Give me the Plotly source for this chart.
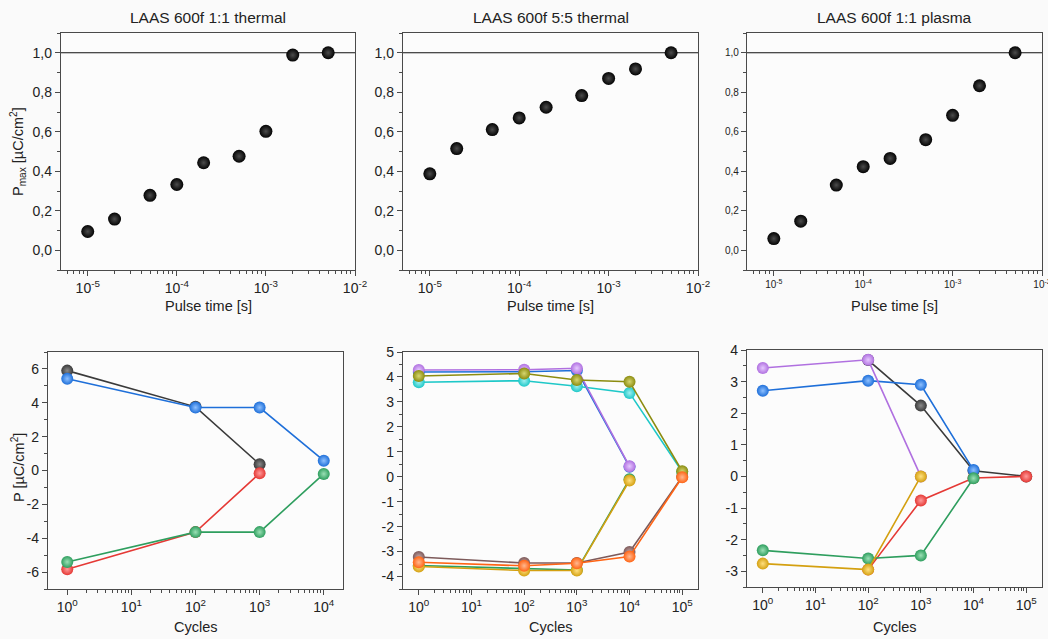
import plotly.graph_objects as go

# ---------------- data ----------------
pulse_time = [1e-5, 2e-5, 5e-5, 1e-4, 2e-4, 5e-4, 1e-3, 2e-3, 5e-3]
pmax_11_thermal = [0.095, 0.158, 0.278, 0.333, 0.443, 0.476, 0.602, 0.988, 1.0]
pmax_55_thermal = [0.387, 0.515, 0.611, 0.670, 0.724, 0.783, 0.870, 0.918, 1.0]
pmax_11_plasma = [0.059, 0.147, 0.330, 0.423, 0.465, 0.560, 0.683, 0.833, 1.0]

top_titles = ["LAAS 600f 1:1 thermal", "LAAS 600f 5:5 thermal", "LAAS 600f 1:1 plasma"]

# bottom-left (1:1 thermal)
c11t_black_x = [1, 100, 1000]
c11t_black_y = [5.90, 3.76, 0.37]
c11t_red_x = [1, 100, 1000]
c11t_red_y = [-5.83, -3.64, -0.16]
c11t_blue_x = [1, 100, 1000, 1e4]
c11t_blue_y = [5.42, 3.72, 3.72, 0.58]
c11t_green_x = [1, 100, 1000, 1e4]
c11t_green_y = [-5.40, -3.64, -3.64, -0.20]

# bottom-middle (5:5 thermal)
c55_blue_x = [1, 100, 1000, 1e4]
c55_blue_y = [4.20, 4.21, 4.26, 0.40]
c55_brown_x = [1, 100, 1000, 1e4, 1e5]
c55_brown_y = [-3.22, -3.46, -3.46, -3.02, 0.00]
c55_cyan_x = [1, 100, 1000, 1e4, 1e5]
c55_cyan_y = [3.79, 3.85, 3.63, 3.36, 0.20]
c55_green_x = [1, 100, 1000, 1e4]
c55_green_y = [-3.56, -3.70, -3.74, -0.10]
c55_purple_x = [1, 100, 1000, 1e4]
c55_purple_y = [4.28, 4.29, 4.35, 0.42]
c55_olive_x = [1, 100, 1000, 1e4, 1e5]
c55_olive_y = [4.04, 4.14, 3.88, 3.81, 0.22]
c55_gold_x = [1, 100, 1000, 1e4]
c55_gold_y = [-3.60, -3.76, -3.76, -0.15]
c55_orange_x = [1, 100, 1000, 1e4, 1e5]
c55_orange_y = [-3.43, -3.57, -3.47, -3.20, -0.02]

# bottom-right (1:1 plasma)
c11p_black_x = [100, 1000, 1e4, 1e5]
c11p_black_y = [3.68, 2.24, 0.18, 0.00]
c11p_red_x = [100, 1000, 1e4, 1e5]
c11p_red_y = [-2.95, -0.76, -0.05, 0.00]
c11p_blue_x = [1, 100, 1000, 1e4]
c11p_blue_y = [2.71, 3.03, 2.90, 0.20]
c11p_green_x = [1, 100, 1000, 1e4]
c11p_green_y = [-2.34, -2.60, -2.50, -0.06]
c11p_purple_x = [1, 100, 1000]
c11p_purple_y = [3.43, 3.69, 0.00]
c11p_gold_x = [1, 100, 1000]
c11p_gold_y = [-2.76, -2.95, 0.00]

top_xtick_vals = [1e-5, 1e-4, 1e-3, 1e-2]
top_xtick_text = ["10<sup>-5</sup>", "10<sup>-4</sup>", "10<sup>-3</sup>", "10<sup>-2</sup>"]
top_ytick_vals = [0.0, 0.2, 0.4, 0.6, 0.8, 1.0]
top_ytick_text = ["0,0", "0,2", "0,4", "0,6", "0,8", "1,0"]
cyc_xtick_vals = [1, 10, 100, 1000, 1e4, 1e5]
cyc_xtick_text = ["10<sup>0</sup>", "10<sup>1</sup>", "10<sup>2</sup>", "10<sup>3</sup>", "10<sup>4</sup>", "10<sup>5</sup>"]

# ---------------- styling ----------------
COL = {
    "black": ("#3a3a3a", "#8a8a8a"),
    "red": ("#e53935", "#ff9a9a"),
    "blue": ("#1e6fd9", "#8ec0ff"),
    "green": ("#2e9e5e", "#9be0b5"),
    "purple": ("#b070e0", "#e6c8ff"),
    "olive": ("#8c8c10", "#d6d670"),
    "cyan": ("#1ec8c8", "#a0f0f0"),
    "brown": ("#7d5a5a", "#c8a8a8"),
    "orange": ("#ff6414", "#ffb890"),
    "gold": ("#d4a010", "#ffe080"),
}
FONT = "Liberation Sans, Arial, sans-serif"
AXC = "#4a4a4a"

W, H = 1048, 639
panels = [
    # (x0,x1,y0,y1) in pixels
    (61, 355, 33, 270),
    (403, 698, 33, 270),
    (747, 1042, 33, 270),
    (48, 343, 352, 589),
    (403, 698, 352, 589),
    (747, 1042, 350, 587),
]

fig = go.Figure()


def minor_log(lo, hi):
    vals = []
    for e in range(lo, hi + 1):
        for m in range(2, 10):
            vals.append(m * 10.0 ** e)
    return vals


def axis_name(kind, i):
    return kind + ("axis" if i == 1 else "axis%d" % i)


def ref(kind, i):
    return kind if i == 1 else "%s%d" % (kind, i)


def setup_panel(i, xrange_log, yrange, xtv, xtt, ytv, ytt, yminor, minor_lo, minor_hi, tickfs_x, tickfs_y):
    x0, x1, y0, y1 = panels[i - 1]
    dx = [x0 / W, x1 / W]
    dy = [1 - y1 / H, 1 - y0 / H]
    mlog = minor_log(minor_lo, minor_hi)
    common_x = dict(type="log", range=xrange_log, showgrid=False, zeroline=False, automargin=False)
    common_y = dict(range=yrange, showgrid=False, zeroline=False, automargin=False)
    fig.layout[axis_name("x", i)] = dict(
        domain=dx, anchor=ref("y", i), **common_x,
        showline=True, linecolor=AXC, linewidth=1.3, mirror=True,
        ticks="outside", ticklen=5, tickwidth=1, tickcolor=AXC,
        tickmode="array", tickvals=xtv, ticktext=xtt, ticklabeloverflow="allow",
        tickfont=dict(family=FONT, size=tickfs_x, color="#222"),
        minor=dict(tickmode="array", tickvals=mlog, ticks="outside", ticklen=3, tickcolor=AXC, showgrid=False),
    )
    fig.layout[axis_name("y", i)] = dict(
        domain=dy, anchor=ref("x", i), **common_y,
        showline=True, linecolor=AXC, linewidth=1.3, mirror=True,
        ticks="outside", ticklen=5, tickwidth=1, tickcolor=AXC,
        tickmode="array", tickvals=ytv, ticktext=ytt,
        tickfont=dict(family=FONT, size=tickfs_y, color="#222"),
        minor=dict(dtick=yminor, ticks="outside", ticklen=3, tickcolor=AXC, showgrid=False),
    )
    # mirrored inside ticks on top / right
    j = i + 6
    fig.layout[axis_name("x", j)] = dict(
        overlaying=ref("x", i), anchor=ref("y", i), side="top", **common_x,
        showline=False, ticks="inside", ticklen=5, tickwidth=1, tickcolor=AXC,
        tickmode="array", tickvals=xtv, showticklabels=False,
        minor=dict(tickmode="array", tickvals=mlog, ticks="inside", ticklen=3, tickcolor=AXC, showgrid=False),
    )
    fig.layout[axis_name("y", j)] = dict(
        overlaying=ref("y", i), anchor=ref("x", i), side="right", **common_y,
        showline=False, ticks="inside", ticklen=5, tickwidth=1, tickcolor=AXC,
        tickmode="array", tickvals=ytv, showticklabels=False,
        minor=dict(dtick=yminor, ticks="inside", ticklen=3, tickcolor=AXC, showgrid=False),
    )


def ball_trace(i, x, y, color_key, size, lines=True):
    edge, center = COL[color_key]
    fig.add_trace(go.Scatter(
        x=x, y=y, xaxis=ref("x", i), yaxis=ref("y", i),
        mode="lines+markers" if lines else "markers",
        line=dict(color=edge, width=1.6),
        marker=dict(size=size, color=edge, line=dict(width=0),
                    gradient=dict(type="radial", color=center)),
        showlegend=False, cliponaxis=False,
    ))


# top panels
top_data = [pmax_11_thermal, pmax_55_thermal, pmax_11_plasma]
for k in range(3):
    i = k + 1
    fs = 14 if k < 2 else 10
    setup_panel(i, [-5.3, -2.0], [-0.1, 1.1], top_xtick_vals, top_xtick_text,
                top_ytick_vals, top_ytick_text, 0.1, -6, -3, fs, fs)
    fig.add_shape(type="line", xref=ref("x", i) + " domain", yref=ref("y", i),
                  x0=0, x1=1, y0=1.0, y1=1.0, line=dict(color="#111", width=1.2), layer="below")
    fig.add_trace(go.Scatter(
        x=pulse_time, y=top_data[k], xaxis=ref("x", i), yaxis=ref("y", i), mode="markers",
        marker=dict(size=13, color="#030303", line=dict(width=0),
                    gradient=dict(type="radial", color="#4c4c4c")),
        showlegend=False,
    ))

# bottom panels
setup_panel(4, [-0.3, 4.3], [-7, 7], cyc_xtick_vals[:5], cyc_xtick_text[:5],
            [-6, -4, -2, 0, 2, 4, 6], ["-6", "-4", "-2", "0", "2", "4", "6"], 1, 0, 4, 14, 14)
setup_panel(5, [-0.3, 5.3], [-4.5, 5], cyc_xtick_vals, cyc_xtick_text,
            list(range(-4, 6)), [str(v) for v in range(-4, 6)], 0.5, 0, 5, 14, 14)
setup_panel(6, [-0.3, 5.3], [-3.5, 4], cyc_xtick_vals, cyc_xtick_text,
            list(range(-3, 5)), [str(v) for v in range(-3, 5)], 0.5, 0, 5, 14, 14)

S = 12
ball_trace(4, c11t_black_x, c11t_black_y, "black", S)
ball_trace(4, c11t_red_x, c11t_red_y, "red", S)
ball_trace(4, c11t_blue_x, c11t_blue_y, "blue", S)
ball_trace(4, c11t_green_x, c11t_green_y, "green", S)

ball_trace(5, c55_blue_x, c55_blue_y, "blue", S)
ball_trace(5, c55_brown_x, c55_brown_y, "brown", S)
ball_trace(5, c55_cyan_x, c55_cyan_y, "cyan", S)
ball_trace(5, c55_green_x, c55_green_y, "green", S)
ball_trace(5, c55_purple_x, c55_purple_y, "purple", S)
ball_trace(5, c55_olive_x, c55_olive_y, "olive", S)
ball_trace(5, c55_gold_x, c55_gold_y, "gold", S)
ball_trace(5, c55_orange_x, c55_orange_y, "orange", S)

ball_trace(6, c11p_black_x, c11p_black_y, "black", S)
ball_trace(6, c11p_red_x, c11p_red_y, "red", S)
ball_trace(6, c11p_blue_x, c11p_blue_y, "blue", S)
ball_trace(6, c11p_green_x, c11p_green_y, "green", S)
ball_trace(6, c11p_purple_x, c11p_purple_y, "purple", S)
ball_trace(6, c11p_gold_x, c11p_gold_y, "gold", S)

# text annotations
ann = []
for k in range(3):
    x0, x1, y0, y1 = panels[k]
    ann.append(dict(text=top_titles[k], x=(x0 + x1) / 2 / W, y=1 - 18 / H, xref="paper", yref="paper",
                    showarrow=False, font=dict(family=FONT, size=15.5, color="#222"), xanchor="center", yanchor="middle"))
    ann.append(dict(text="Pulse time [s]", x=(x0 + x1) / 2 / W, y=1 - 306 / H, xref="paper", yref="paper",
                    showarrow=False, font=dict(family=FONT, size=14.5, color="#222"), xanchor="center", yanchor="middle"))
for k in range(3, 6):
    x0, x1, y0, y1 = panels[k]
    ann.append(dict(text="Cycles", x=(x0 + x1) / 2 / W, y=1 - 627 / H, xref="paper", yref="paper",
                    showarrow=False, font=dict(family=FONT, size=14.5, color="#222"), xanchor="center", yanchor="middle"))
ann.append(dict(text="P<sub>max</sub> [µC/cm<sup>2</sup>]", x=18 / W, y=1 - 152 / H, xref="paper", yref="paper",
                textangle=-90, showarrow=False, font=dict(family=FONT, size=14.5, color="#222"),
                xanchor="center", yanchor="middle"))
ann.append(dict(text="P [µC/cm<sup>2</sup>]", x=18 / W, y=1 - 468 / H, xref="paper", yref="paper",
                textangle=-90, showarrow=False, font=dict(family=FONT, size=14.5, color="#222"),
                xanchor="center", yanchor="middle"))

fig.update_layout(
    width=W, height=H, margin=dict(l=0, r=0, t=0, b=0, autoexpand=False),
    paper_bgcolor="#fafafa", plot_bgcolor="#fcfcfc",
    font=dict(family=FONT, color="#222"),
    annotations=ann, showlegend=False,
)

fig.write_html(
    "out.html",
    config={"displayModeBar": False},
    post_script="document.body.style.margin='0';document.body.style.padding='0';"
                "document.documentElement.style.overflow='hidden';",
)
